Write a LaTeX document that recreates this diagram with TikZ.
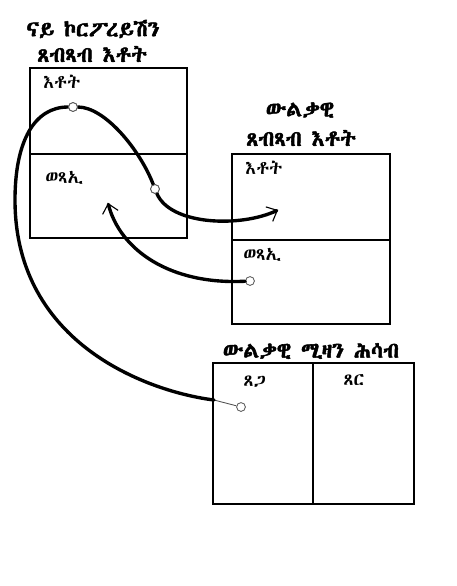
\documentclass[tikz,border=0pt]{standalone}
\usepackage{fontspec}
\usepackage{tikz}
\usetikzlibrary{arrows.meta}
\newfontfamily\ethfont{Abyssinica SIL}
\newfontfamily\ethbold[FakeBold=2.2]{Abyssinica SIL}
\tikzset{
  box/.style={draw=black, line width=1.3pt},
  head/.style={font=\ethbold\fontsize{15.5}{18}\selectfont},
  lab/.style={font=\ethfont\fontsize{13}{15}\selectfont, anchor=west, inner sep=0pt},
  knot/.style={circle, draw=black!65, fill=white, line width=0.6pt, inner sep=0pt, minimum size=2.2mm},
  link/.style={draw=black, line width=2.4pt, line cap=round},
  thin/.style={draw=black!70, line width=0.6pt},
  tip/.style={-{Straight Barb[length=2.2mm, width=4mm, line width=0.8pt]}}
}
\begin{document}
\begin{tikzpicture}[x=0.025cm, y=-0.025cm]
  \useasboundingbox (0,0) rectangle (457,586);

  % boxes
  \draw[box] (30,68) rectangle (187,238);
  \draw[box] (30,154) -- (187,154);
  \draw[box] (232,154) rectangle (390,324);
  \draw[box] (232,240) -- (390,240);
  \draw[box] (213,363) rectangle (414,504);
  \draw[box] (313,363) -- (313,504);

  % titles
  \node[head] (corpA) at (93,29) {ናይ ኮርፖረይሽን};
  \node[head] (corpB) at (92,54) {ጸብጻብ እቶት};
  \node[head] (persA) at (300,110) {ውልቃዊ};
  \node[head] (persB) at (301,138) {ጸብጻብ እቶት};
  \node[head] (bal) at (311,351) {ውልቃዊ ሚዛን ሕሳብ};

  % labels
  \node[lab] (corpInc) at (43,82) {እቶት};
  \node[lab] (corpExp) at (45,178) {ወጻኢ};
  \node[lab] (persInc) at (245,168) {እቶት};
  \node[lab] (persExp) at (243,255) {ወጻኢ};
  \node[lab] (asset) at (243,382) {ጸጋ};
  \node[lab] (liab) at (343,380) {ጸር};

  % knots
  \node[knot] (k1) at (73,107) {};
  \node[knot] (k2) at (155,189) {};
  \node[knot] (k3) at (250,281) {};
  \node[knot] (k4) at (241,407) {};
  \coordinate (bend) at (214,400);
  \coordinate (incEnd) at (278,210);
  \coordinate (expEnd) at (108,203);

  % connectors
  \draw[thin] (k4) -- (bend);
  \draw[link] (bend) .. controls (150,392) and (15,345) .. (15,200)
    .. controls (15,140) and (35,107) .. (k1.west);
  \draw[link] (k1.east) .. controls (105,107) and (140,150) .. (k2);
  \draw[link, tip] (k2) .. controls (170,225) and (240,228) .. (incEnd);
  \draw[link, tip] (k3) .. controls (170,285) and (120,250) .. (expEnd);

  \node[knot] at (k1) {};
  \node[knot] at (k2) {};
\end{tikzpicture}
\end{document}
